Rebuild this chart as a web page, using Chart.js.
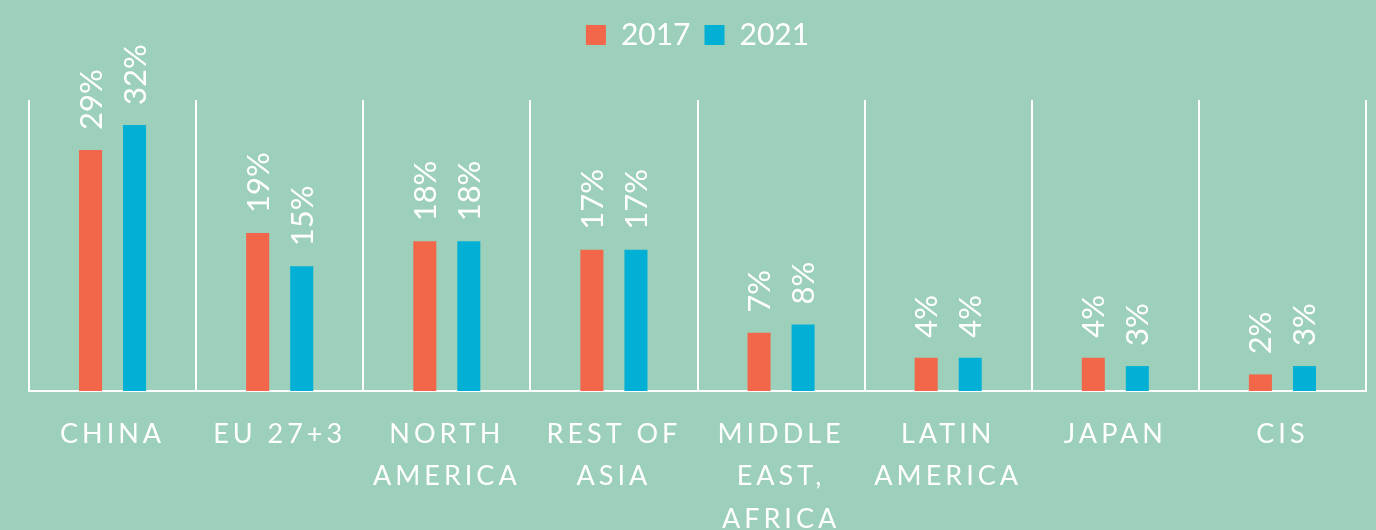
<!DOCTYPE html>
<html>
<head>
<meta charset="utf-8">
<script src="https://cdn.jsdelivr.net/npm/chart.js@4/dist/chart.umd.min.js"></script>
<style>
  html, body { margin: 0; padding: 0; background: #9dd0ba; }
  #wrap { width: 1376px; height: 530px; }
</style>
</head>
<body>
<div id="wrap"><canvas id="c" width="1376" height="530"></canvas></div>
<script>
const categories = [
  ["CHINA"], ["EU 27+3"], ["NORTH", "AMERICA"], ["REST OF", "ASIA"],
  ["MIDDLE", "EAST,", "AFRICA"], ["LATIN", "AMERICA"], ["JAPAN"], ["CIS"]
];
const seriesNames = ["2017", "2021"];
const values2017 = [29, 19, 18, 17, 7, 4, 4, 2];
const values2021 = [32, 15, 18, 17, 8, 4, 3, 3];
const yMax = 35;

const FONT = "Lato";
const RED = "#f2664a";
const BLUE = "#02b0d6";

const valueLabels = {
  id: "valueLabels",
  afterDatasetsDraw(chart) {
    const ctx = chart.ctx;
    ctx.save();
    ctx.fillStyle = "#ffffff";
    ctx.font = "400 31px " + FONT;
    ctx.textAlign = "left";
    ctx.textBaseline = "middle";
    chart.data.datasets.forEach((ds, di) => {
      const meta = chart.getDatasetMeta(di);
      meta.data.forEach((bar, i) => {
        ctx.save();
        ctx.translate(bar.x + 1, bar.y - 20);
        ctx.rotate(-Math.PI / 2);
        ctx.fillText(ds.data[i] + "%", 0, 0);
        ctx.restore();
      });
    });
    ctx.restore();
  }
};

const tweaks = {
  id: "tweaks",
  beforeLayout(chart) {
    const lg = chart.legend;
    if (lg && !lg._patched) {
      const orig = lg.fit.bind(lg);
      lg.fit = function () { orig(); this.height += 40; };
      lg._patched = true;
    }
  },
  beforeDraw(chart) {
    const xs = chart.scales.x;
    if (xs && !xs._patched) {
      const orig = xs.drawLabels.bind(xs);
      xs.drawLabels = function (area) {
        const c = this.ctx;
        c.save();
        c.letterSpacing = "4px";
        orig(area);
        c.restore();
      };
      xs._patched = true;
    }
  }
};

new Chart(document.getElementById("c"), {
  type: "bar",
  data: {
    labels: categories,
    datasets: [
      { label: seriesNames[0], data: values2017, backgroundColor: RED, borderWidth: 0 },
      { label: seriesNames[1], data: values2021, backgroundColor: BLUE, borderWidth: 0 }
    ]
  },
  options: {
    responsive: false,
    animation: false,
    devicePixelRatio: 1,
    categoryPercentage: 0.527,
    barPercentage: 0.523,
    layout: { padding: { left: 29, right: 10, top: 6, bottom: 0 } },
    plugins: {
      legend: {
        position: "top",
        align: "center",
        labels: {
          color: "#ffffff",
          boxWidth: 20,
          boxHeight: 20,
          padding: 14,
          font: { family: FONT, size: 30, weight: "400" }
        }
      },
      tooltip: { enabled: false }
    },
    scales: {
      x: {
        offset: true,
        grid: { display: true, color: "#ffffff", lineWidth: 2, drawTicks: false, offset: true },
        border: { display: true, color: "#ffffff", width: 2 },
        ticks: {
          color: "#ffffff",
          autoSkip: false,
          maxRotation: 0,
          minRotation: 0,
          padding: 22,
          font: { family: FONT, size: 27, weight: "400", lineHeight: 1.57 }
        },
        afterFit(scale) { scale.height = 139; }
      },
      y: {
        display: false,
        min: 0,
        max: yMax
      }
    }
  },
  plugins: [valueLabels, tweaks]
});
</script>
</body>
</html>
